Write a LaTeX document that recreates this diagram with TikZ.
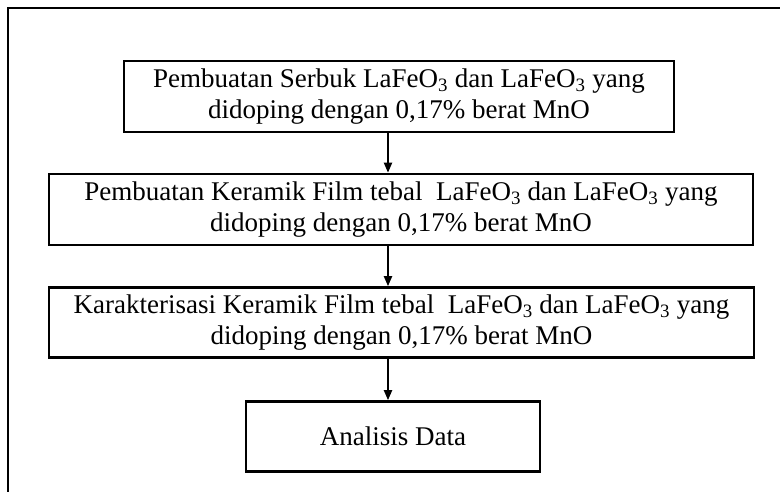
\documentclass[tikz,border=0pt]{standalone}
\usepackage{fontspec}
\setmainfont{Liberation Serif}
\usetikzlibrary{arrows.meta}
\tikzset{
  flowbox/.style={draw, line width=2.6pt, inner sep=0pt, align=center,
    font=\fontsize{27}{31}\selectfont},
  flowarrow/.style={line width=2pt, -{Triangle[length=10pt,width=8pt]}},
  outerframe/.style={line width=2pt},
}
\begin{document}
\begin{tikzpicture}[x=1pt,y=-1pt]
\useasboundingbox (0,0) rectangle (780,492);
\clip (0,0) rectangle (780,492);
% surrounding frame, running off the page on the right and at the bottom
\draw[outerframe] (8,8) rectangle (820,530);

% process steps
\node[flowbox, minimum width=550pt, minimum height=71pt] (s1) at (399,96.5)
  {Pembuatan Serbuk LaFeO\textsubscript{3} dan LaFeO\textsubscript{3} yang\\didoping dengan 0,17\% berat MnO};
\node[flowbox, minimum width=704pt, minimum height=71pt] (s2) at (401,209.5)
  {Pembuatan Keramik Film tebal\ \ LaFeO\textsubscript{3} dan LaFeO\textsubscript{3} yang\\didoping dengan 0,17\% berat MnO};
\node[flowbox, minimum width=705pt, minimum height=70pt] (s3) at (401.5,322.5)
  {Karakterisasi Keramik Film tebal\ \ LaFeO\textsubscript{3} dan LaFeO\textsubscript{3} yang\\didoping dengan 0,17\% berat MnO};
\node[flowbox, minimum width=294pt, minimum height=70pt] (s4) at (393,436.5)
  {Analisis Data};

% connectors along a common vertical axis
\coordinate (axis) at (388,0);
\draw[flowarrow] (s1.south -| axis) -- (s2.north -| axis);
\draw[flowarrow] (s2.south -| axis) -- (s3.north -| axis);
\draw[flowarrow] (s3.south -| axis) -- (s4.north -| axis);
\end{tikzpicture}
\end{document}
